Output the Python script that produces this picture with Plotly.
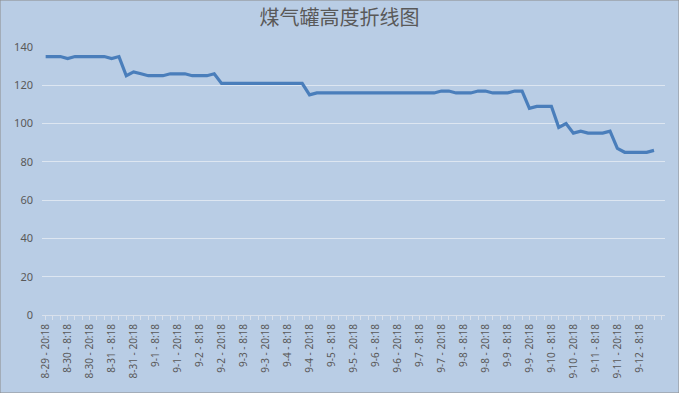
import plotly.graph_objects as go

days = ["8-29", "8-30", "8-31", "9-1", "9-2", "9-3", "9-4", "9-5", "9-6",
        "9-7", "9-8", "9-9", "9-10", "9-11", "9-12"]
hours = ["0:18", "4:18", "8:18", "12:18", "16:18", "20:18"]

# readings every 4 hours, from 8-29 20:18 to 9-12 20:18
categories = [f"{d} - {h}" for d in days for h in hours][5:]

heights = [135, 135, 135, 134, 135, 135, 135, 135, 135, 134,
           135, 125, 127, 126, 125, 125, 125, 126, 126, 126,
           125, 125, 125, 126, 121, 121, 121, 121, 121, 121,
           121, 121, 121, 121, 121, 121, 115, 116, 116, 116,
           116, 116, 116, 116, 116, 116, 116, 116, 116, 116,
           116, 116, 116, 116, 117, 117, 116, 116, 116, 117,
           117, 116, 116, 116, 117, 117, 108, 109, 109, 109,
           98, 100, 95, 96, 95, 95, 95, 96, 87, 85,
           85, 85, 85, 86]

tick_labels = categories[::3]

bg = "#b9cde5"
txt = "#595959"

fig = go.Figure()
fig.add_trace(go.Scatter(
    x=categories, y=heights, mode="lines",
    line=dict(color="#4a7ebb", width=3.2),
    hoverinfo="x+y",
))

fig.update_layout(
    width=679, height=393,
    paper_bgcolor=bg, plot_bgcolor=bg,
    margin=dict(l=42, r=14, t=47, b=78),
    showlegend=False,
    title=dict(text="煤气罐高度折线图", x=0.5, xanchor="center", y=0.953, yanchor="middle",
               font=dict(family="Noto Sans CJK SC", size=20, color=txt)),
    font=dict(family="Noto Sans", size=10, color=txt),
)

fig.update_xaxes(
    type="category",
    range=[-0.5, len(categories) - 0.5],
    tickmode="array", tickvals=tick_labels, ticktext=tick_labels,
    tickangle=-90, tickfont=dict(size=10, color=txt),
    showgrid=False, zeroline=False,
    showline=True, linecolor="#d9e1ec", linewidth=1,
    ticks="outside", ticklen=4, tickcolor="#d9e1ec",
    minor=dict(ticks="outside", ticklen=4, tickcolor="#d9e1ec", dtick=1),
)

fig.update_yaxes(
    range=[0, 140], dtick=20, tick0=0,
    showgrid=True, gridcolor="#dde6f1", gridwidth=1,
    zeroline=False, showline=False, ticks="",
    ticklabelstandoff=8,
    tickfont=dict(size=11, color=txt),
)

fig.add_shape(type="rect", xref="paper", yref="paper",
              x0=-42/623, x1=1 + 14/623, y0=-78/268, y1=1 + 47/268,
              line=dict(color="#8c8c8c", width=1))

fig.write_html("out.html")
